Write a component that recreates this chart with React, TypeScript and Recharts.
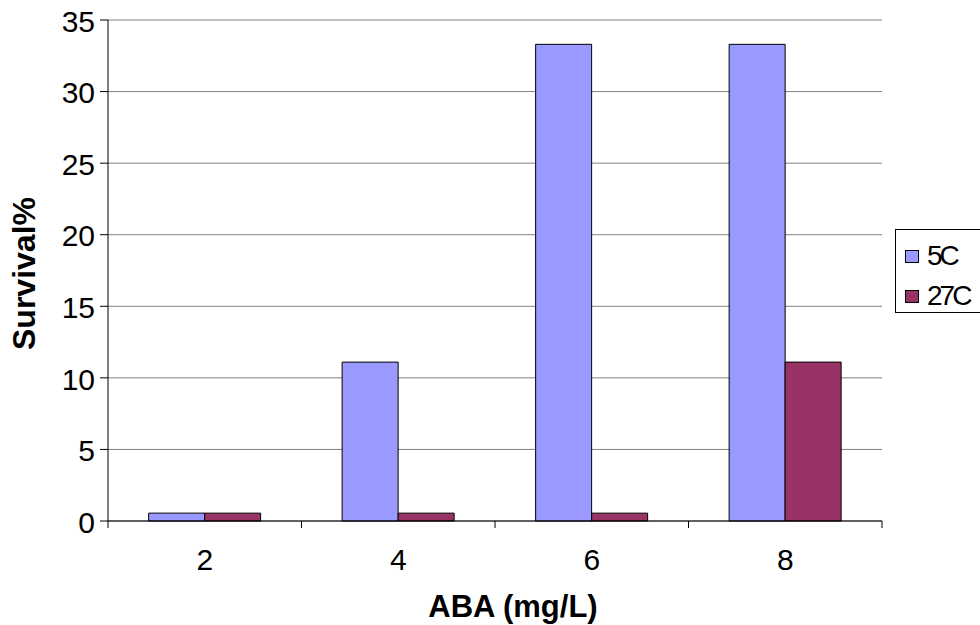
import { BarChart, Bar, XAxis, YAxis, CartesianGrid, Label } from "recharts";

const categories = ["2", "4", "6", "8"];
const survival5C = [0.55, 11.1, 33.3, 33.3];
const survival27C = [0.55, 0.55, 0.55, 11.1];
const yTicks = [0, 5, 10, 15, 20, 25, 30, 35];

const data = categories.map((c, i) => ({
  aba: c,
  c5: survival5C[i],
  c27: survival27C[i],
}));

const W = 980;
const H = 625;
const margin = { top: 20, right: 98, bottom: 0, left: 0 };
const yAxisWidth = 108;
const xAxisHeight = 104;
const plotWidth = W - margin.left - margin.right - yAxisWidth;
const halfBand = plotWidth / categories.length / 2;
const font = "Arial, 'Liberation Sans', sans-serif";

const XTick = (props: any) => {
  const { x, y, payload, index } = props;
  const last = index === categories.length - 1;
  return (
    <g>
      <line x1={x - halfBand} y1={y} x2={x - halfBand} y2={y + 7} stroke="#000" />
      {last && <line x1={x + halfBand} y1={y} x2={x + halfBand} y2={y + 7} stroke="#000" />}
      <text x={x} y={y + 49} textAnchor="middle" fontSize={30} fontFamily={font} fill="#000">
        {payload.value}
      </text>
    </g>
  );
};

const YTitle = (props: any) => {
  const { viewBox } = props;
  const cy = viewBox.y + viewBox.height / 2 + 3;
  return (
    <text
      x={35}
      y={cy}
      transform={`rotate(-90, 35, ${cy})`}
      textAnchor="middle"
      fontSize={32}
      fontWeight="bold"
      fontFamily={font}
      fill="#000"
    >
      Survival%
    </text>
  );
};

const XTitle = (props: any) => {
  const { viewBox } = props;
  return (
    <text
      x={viewBox.x + viewBox.width / 2 + 18}
      y={617}
      textAnchor="middle"
      fontSize={31}
      fontWeight="bold"
      fontFamily={font}
      fill="#000"
    >
      ABA (mg/L)
    </text>
  );
};

export default function App() {
  return (
    <div style={{ position: "absolute", left: 0, top: 0, width: W, height: H, background: "#fff" }}>
      <BarChart width={W} height={H} data={data} margin={margin} barCategoryGap="21%" barGap={0}>
        <CartesianGrid vertical={false} stroke="#808080" />
        <XAxis
          dataKey="aba"
          height={xAxisHeight}
          stroke="#000"
          tickLine={false}
          tickSize={0}
          tickMargin={0}
          tick={<XTick />}
          interval={0}
        >
          <Label content={<XTitle />} />
        </XAxis>
        <YAxis
          width={yAxisWidth}
          domain={[0, 35]}
          ticks={yTicks}
          interval={0}
          stroke="#000"
          tickSize={8}
          tickMargin={5}
          fontSize={30}
          tick={{ fontSize: 30, fontFamily: font, fill: "#000", dy: 1 }}
        >
          <Label content={<YTitle />} />
        </YAxis>
        <Bar dataKey="c5" name="5C" fill="#9999FF" stroke="#000" strokeWidth={1} isAnimationActive={false} />
        <Bar dataKey="c27" name="27C" fill="#993366" stroke="#000" strokeWidth={1} isAnimationActive={false} />
      </BarChart>
      <div
        style={{
          position: "absolute",
          left: 895,
          top: 229,
          width: 90,
          height: 84,
          border: "1px solid #000",
          boxSizing: "border-box",
          fontFamily: font,
          fontSize: 28,
          letterSpacing: -3,
          overflow: "hidden",
        }}
      >
        {[
          { name: "5C", color: "#9999FF" },
          { name: "27C", color: "#993366" },
        ].map((s, i) => (
          <div key={s.name} style={{ position: "absolute", left: 9, top: 10 + i * 40, height: 32, display: "flex", alignItems: "center" }}>
            <span style={{ width: 14, height: 13, background: s.color, border: "1px solid #000", boxSizing: "border-box", display: "inline-block", marginRight: 8 }} />
            <span style={{ lineHeight: "32px" }}>{s.name}</span>
          </div>
        ))}
      </div>
    </div>
  );
}
